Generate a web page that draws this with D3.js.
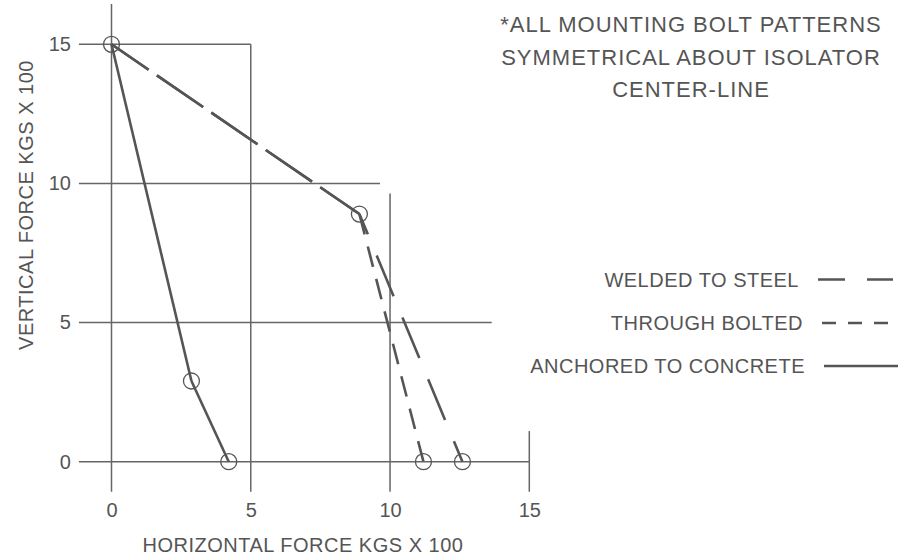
<!DOCTYPE html>
<html>
<head>
<meta charset="utf-8">
<script src="https://cdnjs.cloudflare.com/ajax/libs/d3/7.8.5/d3.min.js"></script>
<style>
  body { margin: 0; background: #fff; }
  svg { display: block; }
  text { font-family: "Liberation Sans", Arial, sans-serif; fill: #555; }
</style>
</head>
<body>
<script>
// values (kgs x 100)
var xTicks = [0, 5, 10, 15];
var yTicks = [0, 5, 10, 15];

var welded = [[0, 15], [8.9, 8.9], [12.6, 0]];
var bolted = [[0, 15], [8.9, 8.9], [11.2, 0]];
var anchored = [[0, 15], [2.87, 2.9], [4.21, 0]];

// stepped grid: each line stops where the drawing stops it
var hGrid = [[15, 5], [10, 9.64], [5, 13.65], [0, 15]];
var vGrid = [[0, 16.45], [5, 15], [10, 9.64], [15, 1.1]];

var seriesNames = ['WELDED TO STEEL', 'THROUGH BOLTED', 'ANCHORED TO CONCRETE'];
var note = ['*ALL MOUNTING BOLT PATTERNS', 'SYMMETRICAL ABOUT ISOLATOR', 'CENTER-LINE'];

var W = 909, H = 555;
var ink = '#555';

var x = d3.scaleLinear().domain([0, 15]).range([111.5, 529.3]);
var y = d3.scaleLinear().domain([0, 15]).range([461.7, 44.3]);
var gridLeft = -1.17, gridBottom = -1.08;

var svg = d3.select('body').append('svg')
	.attr('width', W)
	.attr('height', H);

// grid
var grid = svg.append('g')
	.attr('stroke', '#666')
	.attr('stroke-width', 1.5);
grid.selectAll('line.h').data(hGrid)
	.enter().append('line')
	.attr('class', 'h')
	.attr('x1', x(gridLeft))
	.attr('x2', function (d) { return x(d[1]); })
	.attr('y1', function (d) { return y(d[0]); })
	.attr('y2', function (d) { return y(d[0]); });
grid.selectAll('line.v').data(vGrid)
	.enter().append('line')
	.attr('class', 'v')
	.attr('x1', function (d) { return x(d[0]); })
	.attr('x2', function (d) { return x(d[0]); })
	.attr('y1', y(gridBottom))
	.attr('y2', function (d) { return y(d[1]); });

// tick labels through d3 axes, no tick marks
var yAxis = svg.append('g')
	.attr('transform', 'translate(' + x(gridLeft) + ',0)')
	.call(d3.axisLeft(y).tickValues(yTicks).tickSize(0).tickPadding(8));
var xAxis = svg.append('g')
	.attr('transform', 'translate(0,' + y(gridBottom) + ')')
	.call(d3.axisBottom(x).tickValues(xTicks).tickSize(0).tickPadding(11));
[yAxis, xAxis].forEach(function (a) {
	a.select('.domain').remove();
	a.selectAll('text')
		.attr('fill', ink)
		.style('font-size', '20px')
		.style('font-family', '"Liberation Sans", Arial, sans-serif');
});

// axis titles
svg.append('text')
	.attr('transform', 'translate(33,205) rotate(-90)')
	.attr('text-anchor', 'middle')
	.style('font-size', '20px')
	.style('letter-spacing', '0.5px')
	.text('VERTICAL FORCE KGS X 100');
svg.append('text')
	.attr('x', 303)
	.attr('y', 552)
	.attr('text-anchor', 'middle')
	.style('font-size', '20px')
	.style('letter-spacing', '0.5px')
	.text('HORIZONTAL FORCE KGS X 100');

// curves, drawn a segment at a time because the dash changes per leg
var line = d3.line()
	.x(function (d) { return x(d[0]); })
	.y(function (d) { return y(d[1]); });

var curves = [
	{ pts: welded, dash: [['56,10', 11], ['44,23', 22]], legendDash: '27,22' },
	{ pts: bolted, dash: [['56,10', 11], ['21,12.5', 0]], legendDash: '14,12' },
	{ pts: anchored, dash: [[null, 0], [null, 0]], legendDash: null }
];

curves.forEach(function (c) {
	d3.pairs(c.pts).forEach(function (seg, i) {
		svg.append('path')
			.attr('d', line(seg))
			.attr('fill', 'none')
			.attr('stroke', ink)
			.attr('stroke-width', 2.6)
			.attr('stroke-dasharray', c.dash[i][0])
			.attr('stroke-dashoffset', c.dash[i][1]);
	});
});

// point circles, one per distinct point
var seen = {};
var pts = [];
curves.forEach(function (c) {
	c.pts.forEach(function (p) {
		var k = p.join(',');
		if (!seen[k]) { seen[k] = true; pts.push(p); }
	});
});
svg.selectAll('circle').data(pts)
	.enter().append('circle')
	.attr('cx', function (d) { return x(d[0]); })
	.attr('cy', function (d) { return y(d[1]); })
	.attr('r', 8)
	.attr('fill', 'none')
	.attr('stroke', ink)
	.attr('stroke-width', 1.3);

// legend
var legY = [279.5, 323, 366];
var legTextX = [799, 803, 805];
var legLine = [[818, 893], [822, 897], [824, 898]];
seriesNames.forEach(function (name, i) {
	svg.append('text')
		.attr('x', legTextX[i])
		.attr('y', legY[i] + 7)
		.attr('text-anchor', 'end')
		.style('font-size', '20px')
		.style('letter-spacing', '0.5px')
		.text(name);
	svg.append('line')
		.attr('x1', legLine[i][0])
		.attr('x2', legLine[i][1])
		.attr('y1', legY[i])
		.attr('y2', legY[i])
		.attr('stroke', ink)
		.attr('stroke-width', 2.6)
		.attr('stroke-dasharray', curves[i].legendDash);
});

// note top right
svg.append('g').selectAll('text').data(note)
	.enter().append('text')
	.attr('x', 691)
	.attr('y', function (d, i) { return [31.7, 65, 97][i]; })
	.attr('text-anchor', 'middle')
	.style('font-size', '22px')
	.style('letter-spacing', '1px')
	.text(function (d) { return d; });
</script>
</body>
</html>
